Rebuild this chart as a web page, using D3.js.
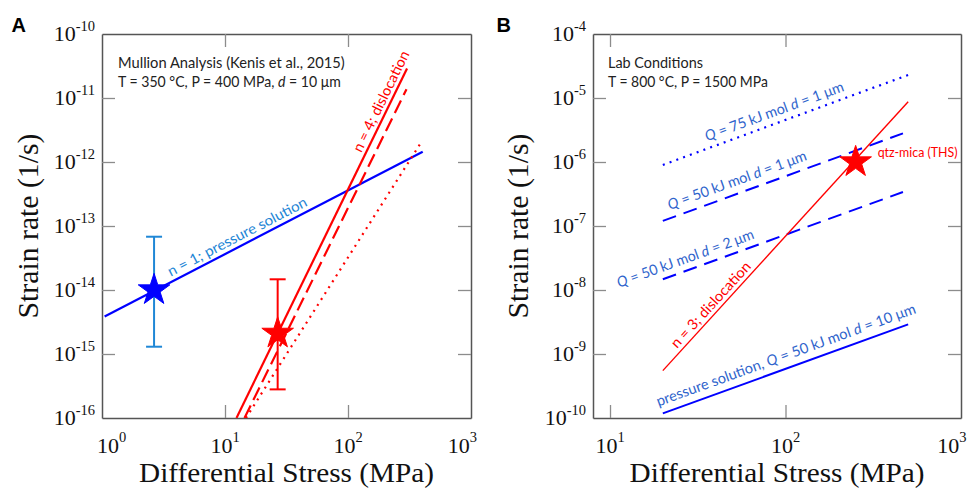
<!DOCTYPE html>
<html><head><meta charset="utf-8">
<script src="https://cdn.jsdelivr.net/npm/d3@7"></script>
<style>body{margin:0;background:#fff} svg{display:block}</style>
</head><body>
<svg id="chart" width="967" height="490"></svg>
<script>
// ---------- Panel A data ----------
const aXTicks = [1, 10, 100, 1000];
const aYTicks = [1e-16, 1e-15, 1e-14, 1e-13, 1e-12, 1e-11, 1e-10];
const aPressureX = [1.05, 405];
const aPressureY = [3.85e-15, 1.45e-12];
const aDislocSolidX = [12.4, 302];
const aDislocSolidY = [1e-16, 2.9e-11];
const aDislocDashX = [14.4, 299];
const aDislocDashY = [1e-16, 1.37e-11];
const aDislocDotX = [14.8, 396];
const aDislocDotY = [1e-16, 2.07e-12];
const aStarX = [2.65, 26.8];
const aStarY = [1e-14, 2.1e-15];
const aErrLow = [1.3e-15, 2.8e-16];
const aErrHigh = [6.8e-14, 1.47e-14];
// ---------- Panel B data ----------
const bXTicks = [10, 100, 1000];
const bYTicks = [1e-10, 1e-9, 1e-8, 1e-7, 1e-6, 1e-5, 1e-4];
const bDislocX = [20, 500];
const bDislocY = [5.5e-10, 8.75e-6];
const bQ75d1X = [20, 500];
const bQ75d1Y = [9e-7, 2.29e-5];
const bQ50d1X = [20, 467];
const bQ50d1Y = [1.2e-7, 2.8e-6];
const bQ50d2X = [20, 467];
const bQ50d2Y = [1.47e-8, 3.4e-7];
const bPsX = [20, 500];
const bPsY = [1.18e-10, 2.9e-9];
const bStarX = [251];
const bStarY = [1e-6];

// ---------- drawing ----------
const svg = d3.select("#chart");
const SANS = "Lato, 'Open Sans', sans-serif";
const SERIF = "'Liberation Serif', 'Times New Roman', serif";
const RED = "#ff0000", BLUE = "#0000ff", LBLUE = "#1f87d6", TBLUE = "#2f64cc";

function fitText(node, target) {
  const w = node.getComputedTextLength();
  if (w > 0) d3.select(node).attr("transform", `scale(${target / w},1)`);
}
const zip = (xs, ys) => xs.map((v, i) => [v, ys[i]]);

function frame(g, x, y, xTicks, yTicks, lo, hi, id) {
  const [x0, x1] = x.range(), [y0, y1] = y.range();
  const xi = xTicks.filter(v => x(v) > x0 + 1 && x(v) < x1 - 1);
  const yi = yTicks.filter(v => y(v) < y0 - 1 && y(v) > y1 + 1);
  const mk = (ax, tv) => ax.tickValues(tv).tickSizeInner(-13).tickSizeOuter(0).tickFormat("");
  const axes = [
    [mk(d3.axisBottom(x), xi), `translate(0,${y0})`],
    [mk(d3.axisTop(x), xi), `translate(0,${y1})`],
    [mk(d3.axisLeft(y), yi), `translate(${x0},0)`],
    [mk(d3.axisRight(y), yi), `translate(${x1},0)`]
  ];
  axes.forEach(([ax, tr]) => {
    const a = g.append("g").attr("transform", tr).call(ax);
    a.select(".domain").attr("stroke", "#555").attr("stroke-width", 1.5);
    a.selectAll(".tick line").attr("stroke", "#8c8c8c").attr("stroke-width", 1.3);
  });
  xTicks.forEach(v => {
    const t = g.append("text").attr("x", x(v)).attr("y", y0 + 35)
      .attr("text-anchor", "middle").attr("font-family", SERIF).attr("font-size", 22).attr("fill", "#111");
    t.append("tspan").text("10");
    t.append("tspan").attr("font-size", 14.5).attr("dy", -11).text(Math.round(Math.log10(v)));
    const bb = t.node().getBBox();
    let shift = 0;
    if (bb.x < lo) shift = lo - bb.x;
    if (bb.x + bb.width > hi) shift = hi - (bb.x + bb.width);
    t.attr("x", x(v) + shift);
  });
  yTicks.forEach(v => {
    const t = g.append("text").attr("x", x0 - 7).attr("y", y(v) + 7)
      .attr("text-anchor", "end").attr("font-family", SERIF).attr("font-size", 22).attr("fill", "#111");
    t.append("tspan").text("10");
    t.append("tspan").attr("font-size", 14.5).attr("dy", -10).text(Math.round(Math.log10(v)));
  });
  g.append("clipPath").attr("id", id).append("rect")
    .attr("x", x0).attr("y", y1).attr("width", x1 - x0).attr("height", y0 - y1);
}

function axisTitles(g, x, y, ylx) {
  const [x0, x1] = x.range(), [y0, y1] = y.range();
  const gx = g.append("g").attr("transform", `translate(${(x0 + x1) / 2},482)`);
  const tx = gx.append("text").attr("text-anchor", "middle")
    .attr("font-family", SERIF).attr("font-size", 27).attr("fill", "#111").text("Differential Stress (MPa)");
  fitText(tx.node(), 295);
  const gy = g.append("g").attr("transform", `translate(${ylx},${(y0 + y1) / 2}) rotate(-90)`);
  const ty = gy.append("text").attr("text-anchor", "middle")
    .attr("font-family", SERIF).attr("font-size", 29).attr("fill", "#111").text("Strain rate (1/s)");
  fitText(ty.node(), 185);
}

function drawLine(g, x, y, xs, ys, color, w, dash, clip) {
  g.append("path").datum(zip(xs, ys))
    .attr("clip-path", `url(#${clip})`)
    .attr("d", d3.line().x(d => x(d[0])).y(d => y(d[1])))
    .attr("fill", "none").attr("stroke", color).attr("stroke-width", w)
    .attr("stroke-dasharray", dash || null);
}

function lineLabel(g, x, y, xs, ys, t, off, parts, color, width, size) {
  const X0 = x(xs[0]), Y0 = y(ys[0]), X1 = x(xs[1]), Y1 = y(ys[1]);
  const ang = Math.atan2(Y1 - Y0, X1 - X0);
  const px = X0 + t * (X1 - X0), py = Y0 + t * (Y1 - Y0);
  const gx = px + off * Math.sin(ang), gy = py - off * Math.cos(ang);
  const gg = g.append("g").attr("transform", `translate(${gx},${gy}) rotate(${ang * 180 / Math.PI})`);
  const tx = gg.append("text").attr("font-family", SANS).attr("font-size", size).attr("fill", color);
  parts.forEach(p => tx.append("tspan").attr("font-style", p.i ? "italic" : "normal").text(p.t));
  fitText(tx.node(), width);
}

function plainText(g, px, py, parts, color, width, size, weight, family) {
  const gg = g.append("g").attr("transform", `translate(${px},${py})`);
  const tx = gg.append("text").attr("font-family", family || SANS).attr("font-size", size)
    .attr("font-weight", weight || "normal").attr("fill", color);
  parts.forEach(p => tx.append("tspan").attr("font-style", p.i ? "italic" : "normal").text(p.t));
  if (width) fitText(tx.node(), width);
}

const star = d3.symbol().type(d3.symbolStar).size(310);

// ===== Panel A =====
{
  const g = svg.append("g");
  const x = d3.scaleLog().domain([1, 1000]).range([102, 471]);
  const y = d3.scaleLog().domain([1e-16, 1e-10]).range([418, 34]);
  frame(g, x, y, aXTicks, aYTicks, 97, 477, "clipA");
  axisTitles(g, x, y, 38);
  plainText(g, 11.5, 32, [{t: "A"}], "#000", null, 20, "bold", "'Liberation Sans', Arial, sans-serif");
  plainText(g, 118, 68, [{t: "Mullion Analysis (Kenis et al., 2015)"}], "#222", 227, 14.5);
  plainText(g, 118, 87, [{t: "T = 350 °C, P = 400 MPa, "}, {t: "d", i: 1}, {t: " = 10 μm"}], "#222", 223, 14.5);

  drawLine(g, x, y, aPressureX, aPressureY, BLUE, 2.2, null, "clipA");
  drawLine(g, x, y, aDislocSolidX, aDislocSolidY, RED, 2.2, null, "clipA");
  drawLine(g, x, y, aDislocDashX, aDislocDashY, RED, 2.2, "14,6", "clipA");
  drawLine(g, x, y, aDislocDotX, aDislocDotY, RED, 2.2, "2,5", "clipA");

  lineLabel(g, x, y, aPressureX, aPressureY, 0.215, 5,
    [{t: "n = 1; pressure solution"}], LBLUE, 155, 14.5);
  lineLabel(g, x, y, aDislocSolidX, aDislocSolidY, 0.752, 4,
    [{t: "n = 4; dislocation"}], RED, 111, 14.5);

  const errCol = [LBLUE, RED];
  aStarX.forEach((sx, i) => {
    const cx = x(sx);
    g.append("line").attr("x1", cx).attr("x2", cx).attr("y1", y(aErrLow[i])).attr("y2", y(aErrHigh[i]))
      .attr("stroke", errCol[i]).attr("stroke-width", 2);
    [aErrLow[i], aErrHigh[i]].forEach(v => g.append("line").attr("x1", cx - 8).attr("x2", cx + 8)
      .attr("y1", y(v)).attr("y2", y(v)).attr("stroke", errCol[i]).attr("stroke-width", 2));
  });
  const starCol = [BLUE, RED];
  aStarX.forEach((sx, i) => {
    g.append("path").attr("d", star).attr("transform", `translate(${x(sx)},${y(aStarY[i])})`)
      .attr("fill", starCol[i]).attr("stroke", starCol[i]).attr("stroke-width", 1);
  });
}

// ===== Panel B =====
{
  const g = svg.append("g");
  const x = d3.scaleLog().domain([8, 1000]).range([593, 961]);
  const y = d3.scaleLog().domain([1e-10, 1e-4]).range([418, 34]);
  frame(g, x, y, bXTicks, bYTicks, 588, 966.5, "clipB");
  axisTitles(g, x, y, 528);
  plainText(g, 496.5, 32, [{t: "B"}], "#000", null, 20, "bold", "'Liberation Sans', Arial, sans-serif");
  plainText(g, 608, 68, [{t: "Lab Conditions"}], "#222", 95, 14.5);
  plainText(g, 608, 87, [{t: "T = 800 °C, P = 1500 MPa"}], "#222", 160, 14.5);

  drawLine(g, x, y, bQ75d1X, bQ75d1Y, BLUE, 2.2, "2,5.2", "clipB");
  drawLine(g, x, y, bQ50d1X, bQ50d1Y, BLUE, 2, "14,8", "clipB");
  drawLine(g, x, y, bQ50d2X, bQ50d2Y, BLUE, 2, "14,8", "clipB");
  drawLine(g, x, y, bPsX, bPsY, BLUE, 2, null, "clipB");
  drawLine(g, x, y, bDislocX, bDislocY, RED, 1.4, null, "clipB");

  lineLabel(g, x, y, bQ75d1X, bQ75d1Y, 0.19, 7,
    [{t: "Q", i: 1}, {t: " = 75 kJ mol "}, {t: "d", i: 1}, {t: " = 1 μm"}], TBLUE, 147, 14.5);
  lineLabel(g, x, y, bQ50d1X, bQ50d1Y, 0.04, 8,
    [{t: "Q", i: 1}, {t: " = 50 kJ mol "}, {t: "d", i: 1}, {t: " = 1 μm"}], TBLUE, 147, 14.5);
  lineLabel(g, x, y, bQ50d2X, bQ50d2Y, -0.173, 7,
    [{t: "Q", i: 1}, {t: " = 50 kJ mol "}, {t: "d", i: 1}, {t: " = 2 μm"}], TBLUE, 145, 14.5);
  lineLabel(g, x, y, bPsX, bPsY, -0.007, 8,
    [{t: "pressure solution, "}, {t: "Q", i: 1}, {t: " = 50 kJ mol "}, {t: "d", i: 1}, {t: " = 10 μm"}], TBLUE, 275, 14.5);
  lineLabel(g, x, y, bDislocX, bDislocY, 0.07, 4,
    [{t: "n = 3; dislocation"}], RED, 111, 14.5);

  bStarX.forEach((sx, i) => {
    g.append("path").attr("d", star).attr("transform", `translate(${x(sx)},${y(bStarY[i])})`)
      .attr("fill", RED).attr("stroke", RED).attr("stroke-width", 1);
    plainText(g, x(sx) + 22, y(bStarY[i]) - 5, [{t: "qtz-mica (THS)"}], RED, 80, 12.5);
  });
}
</script>
</body></html>
